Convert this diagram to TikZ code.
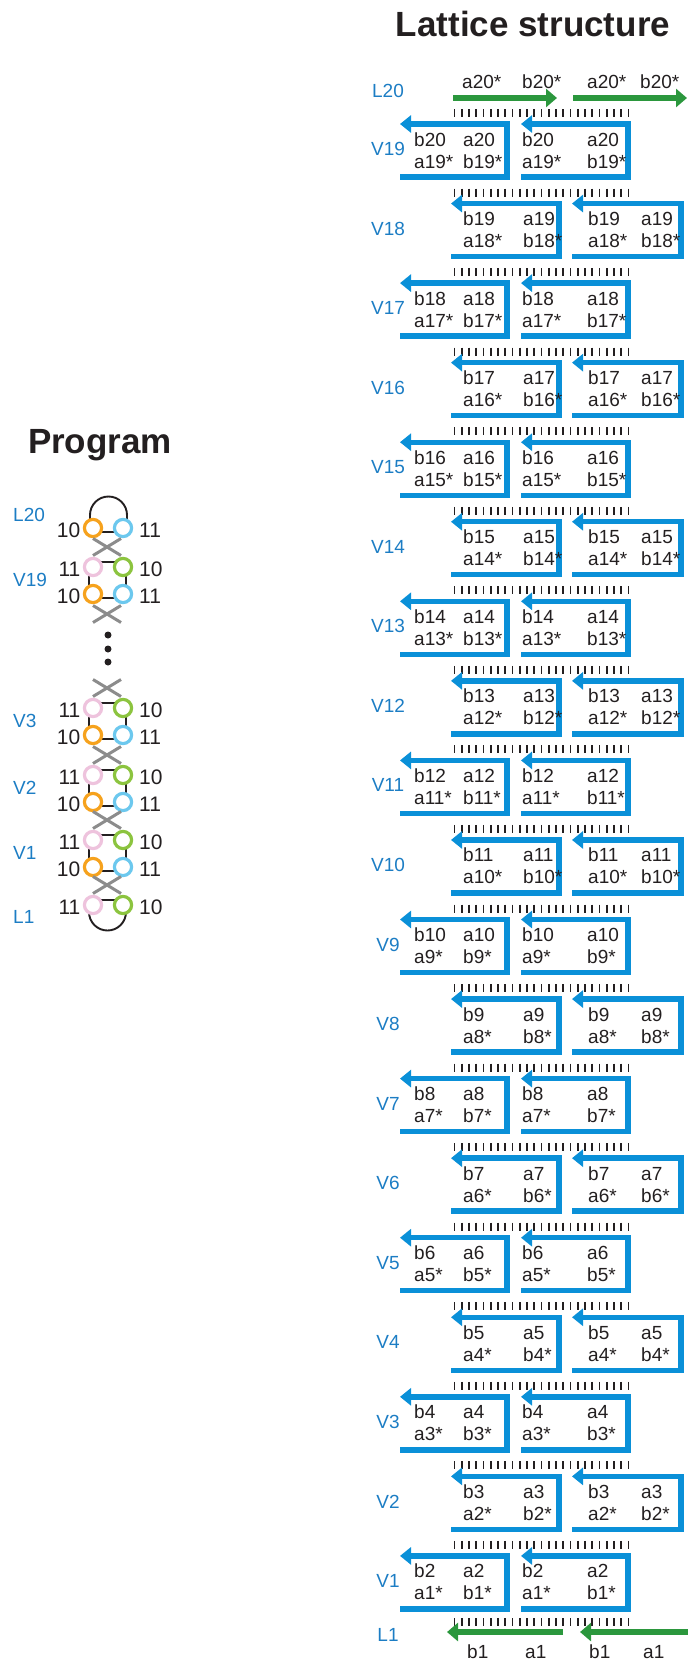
\documentclass[tikz,border=0pt]{standalone}
\usepackage{fontspec}
\setmainfont{Liberation Sans}
\usetikzlibrary{arrows.meta,calc,backgrounds,shapes.misc}
\definecolor{cink}{HTML}{231F20}
\definecolor{cboxblue}{HTML}{0A90D8}
\definecolor{clblue}{HTML}{1C7DC4}
\definecolor{cgarrow}{HTML}{2B973D}
\definecolor{corange}{HTML}{F6A21D}
\definecolor{ccyan}{HTML}{6CC8EE}
\definecolor{cpink}{HTML}{EEC3DD}
\definecolor{cgreen}{HTML}{8CC43F}
\definecolor{cgray}{HTML}{8C8C8C}
\tikzset{
 ttl/.style={font=\fontsize{35bp}{40bp}\selectfont\bfseries, text=cink, inner sep=0},
 lt/.style={font=\fontsize{19bp}{22bp}\selectfont, text=cink, inner sep=0, anchor=base west},
 lbl/.style={font=\fontsize{19bp}{22bp}\selectfont, text=clblue, inner sep=0},
 num/.style={font=\fontsize{21bp}{24bp}\selectfont, text=cink, inner sep=0},
 bbox/.style={draw=cboxblue, line width=5.4bp, line join=miter, -{Triangle[length=11bp,width=17bp]}},
 garr/.style={draw=cgarrow, line width=5.5bp, -{Triangle[length=11bp,width=18bp]}},
 tickmark/.style={draw=cink, line width=1.6bp},
 pc/.style={circle, line width=3.2bp, fill=white, minimum size=17.2bp, inner sep=0},
 pline/.style={draw=cink, line width=1.9bp},
 xm/.style={cross out, draw=cgray, line width=3bp, minimum width=25bp, minimum height=14bp, inner sep=0},
 pdot/.style={circle, fill=cink, minimum size=7bp, inner sep=0},
}
\newcommand\vblock[3]{%
  \node[pc,draw=cpink] (#1p) at (93,#2) {};
  \node[pc,draw=cgreen] (#1g) at (123,#2) {};
  \node[pc,draw=corange] (#1o) at (93,{#2+27}) {};
  \node[pc,draw=ccyan] (#1b) at (123,{#2+27}) {};
  \begin{scope}[on background layer]
    \draw[pline] ($(#1p)+(-4,-5)$) -- ($(#1g)+(3,-5)$) -- ($(#1b)+(3,4)$) -- ($(#1o)+(-4,4)$) -- cycle;
  \end{scope}
  \node[num,anchor=east] (#1pt) at ($(#1p)+(-12.5,2)$) {11};
  \node[num,anchor=west] (#1gt) at ($(#1g)+(16,2)$) {10};
  \node[num,anchor=east] (#1ot) at ($(#1o)+(-12.5,2)$) {10};
  \node[num,anchor=west] (#1bt) at ($(#1b)+(16,2)$) {11};
  \node[lbl,anchor=west] (#1l) at (13,{#2+12.5}) {#3};
}
\begin{document}
\begin{tikzpicture}[x=1bp,y=-1bp]
\useasboundingbox (0,0) rectangle (688,1661);
% titles
\node[ttl,anchor=base] (tlat) at (533,37) {Lattice structure};
\node[ttl,anchor=base] (tprog) at (100,453) {Program};
% ---------------- Lattice ----------------
\foreach \n in {1,...,19}{
  \pgfmathsetmacro\T{124+(19-\n)*79.55}
  \pgfmathtruncatemacro\m{\n+1}
  \ifodd\n
    \def\xa{400}\def\xb{507}\def\xc{521}\def\xd{628}
    \def\ca{414}\def\cb{463}\def\cc{522}\def\cd{587}
  \else
    \def\xa{451}\def\xb{559}\def\xc{572}\def\xd{681}
    \def\ca{463}\def\cb{523}\def\cc{588}\def\cd{641}
  \fi
  \foreach \k in {0,...,24}{\draw[tickmark] ({454.5+\k*7.25},{\T-15}) -- ++(0,8);}
  \draw[bbox] (\xa,{\T+53}) -- (\xb,{\T+53}) -- (\xb,\T) -- (\xa,\T);
  \draw[bbox] (\xc,{\T+53}) -- (\xd,{\T+53}) -- (\xd,\T) -- (\xc,\T);
  \node[lt] (v\n-a) at (\ca,{\T+22}) {b\m};
  \node[lt] (v\n-b) at (\cb,{\T+22}) {a\m};
  \node[lt] (v\n-c) at (\ca,{\T+44}) {a\n*};
  \node[lt] (v\n-d) at (\cb,{\T+44}) {b\n*};
  \node[lt] (v\n-e) at (\cc,{\T+22}) {b\m};
  \node[lt] (v\n-f) at (\cd,{\T+22}) {a\m};
  \node[lt] (v\n-g) at (\cc,{\T+44}) {a\n*};
  \node[lt] (v\n-h) at (\cd,{\T+44}) {b\n*};
  \node[lbl] (vl\n) at (388,{\T+25}) {V\n};
}
\foreach \k in {0,...,24}{\draw[tickmark] ({454.5+\k*7.25},1618) -- ++(0,8);}
% L20
\node[lbl] (ll20) at (388,91) {L20};
\draw[garr] (453,98) -- (557,98);
\draw[garr] (573,98) -- (687,98);
\node[lt] (l20a) at (462,88) {a20*};
\node[lt] (l20b) at (522,88) {b20*};
\node[lt] (l20c) at (587,88) {a20*};
\node[lt] (l20d) at (640,88) {b20*};
% L1
\node[lbl] (ll1) at (388,1635) {L1};
\draw[garr] (563,1632) -- (447,1632);
\draw[garr] (688,1632) -- (580,1632);
\node[lt] (l1a) at (467,1658) {b1};
\node[lt] (l1b) at (525,1658) {a1};
\node[lt] (l1c) at (589,1658) {b1};
\node[lt] (l1d) at (643,1658) {a1};
% ---------------- Program ----------------
% L20
\node[pc,draw=corange] (L20o) at (93,528) {};
\node[pc,draw=ccyan] (L20b) at (123,528) {};
\begin{scope}[on background layer]
  \draw[pline] ($(L20o)+(-3,0)$) -- ++(0,-13) arc[start angle=180,end angle=0,radius=18.5bp] -- ($(L20b)+(4,0)$);
  \draw[pline] ($(L20o)+(0,4)$) -- ($(L20b)+(0,4)$);
\end{scope}
\node[num,anchor=east] (L20ot) at ($(L20o)+(-12.5,2)$) {10};
\node[num,anchor=west] (L20bt) at ($(L20b)+(16,2)$) {11};
\node[lbl,anchor=west] (L20l) at (13,515) {L20};
\node[xm] (x1) at (107,547) {};
\vblock{V19}{567}{V19}
\node[xm] (x2) at (107,614) {};
\node[pdot] (d1) at (108,635) {};
\node[pdot] (d2) at (108,649) {};
\node[pdot] (d3) at (108,662) {};
\node[xm] (x3) at (107,688) {};
\vblock{V3}{708}{V3}
\node[xm] (x4) at (107,755) {};
\vblock{V2}{775}{V2}
\node[xm] (x5) at (107,820) {};
\vblock{V1}{840}{V1}
\node[xm] (x6) at (107,885) {};
% L1
\node[pc,draw=cpink] (L1p) at (93,905) {};
\node[pc,draw=cgreen] (L1g) at (123,905) {};
\begin{scope}[on background layer]
  \draw[pline] ($(L1p)+(-4,0)$) -- ++(0,7) arc[start angle=180,end angle=360,radius=18.5bp] -- ($(L1g)+(3,0)$);
  \draw[pline] ($(L1p)+(0,-5)$) -- ($(L1g)+(0,-5)$);
\end{scope}
\node[num,anchor=east] (L1pt) at ($(L1p)+(-12.5,2)$) {11};
\node[num,anchor=west] (L1gt) at ($(L1g)+(16,2)$) {10};
\node[lbl,anchor=west] (L1l) at (13,917) {L1};
\end{tikzpicture}
\end{document}
